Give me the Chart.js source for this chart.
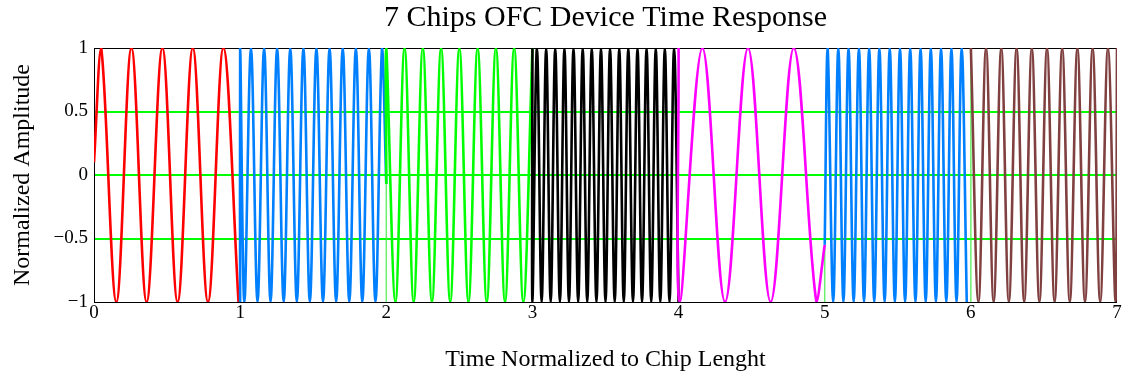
<!DOCTYPE html>
<html>
<head>
<meta charset="utf-8">
<script src="https://cdn.jsdelivr.net/npm/chart.js@4/dist/chart.umd.min.js"></script>
<style>
  body { margin: 0; background: #fff; }
  #wrap { width: 1127px; height: 377px; }
</style>
</head>
<body>
<div id="wrap"><canvas id="ofcChart" width="1127" height="377"></canvas></div>
<script>
// Peaks / troughs of each chip.
// time is in chip lengths, amplitude is normalized.
const chip1Time = [0, 0.049, 0.153, 0.256, 0.360, 0.468, 0.572, 0.676, 0.780, 0.885, 0.989];
const chip1Amp = [0.1, 1, -1, 1, -1, 1, -1, 1, -1, 1, -1];

const chip2Time = [1, 1, 1.029, 1.074, 1.119, 1.164, 1.208, 1.253, 1.298, 1.343, 1.388, 1.433,
  1.477, 1.522, 1.567, 1.612, 1.657, 1.702, 1.747, 1.792, 1.836, 1.881, 1.926, 1.971, 2.0];
const chip2Amp = [-1, 1, -1, 1, -1, 1, -1, 1, -1, 1, -1, 1,
  -1, 1, -1, 1, -1, 1, -1, 1, -1, 1, -1, 1, -0.07];

const chip3Time = [2, 2, 2.0625, 2.125, 2.1875, 2.25, 2.3125, 2.375, 2.4375, 2.5,
  2.5625, 2.625, 2.6875, 2.75, 2.8125, 2.875, 2.9375, 3];
const chip3Amp = [-0.07, 1, -1, 1, -1, 1, -1, 1, -1, 1,
  -1, 1, -1, 1, -1, 1, -1, 1];

const chip4Time = [3, 3, 3.031, 3.063, 3.094, 3.125, 3.156, 3.188, 3.219, 3.25, 3.281, 3.313,
  3.344, 3.375, 3.406, 3.438, 3.469, 3.5, 3.531, 3.563, 3.594, 3.625, 3.656, 3.688,
  3.719, 3.75, 3.781, 3.813, 3.844, 3.875, 3.906, 3.938, 3.969, 4];
const chip4Amp = [1, -1, 1, -1, 1, -1, 1, -1, 1, -1, 1, -1,
  1, -1, 1, -1, 1, -1, 1, -1, 1, -1, 1, -1,
  1, -1, 1, -1, 1, -1, 1, -1, 1, -1];

const chip5Time = [4, 4.008, 4.163, 4.318, 4.475, 4.630, 4.788, 4.943, 5];
const chip5Amp = [1, -1, 1, -1, 1, -1, 1, -1, -0.55];

const chip6Time = [5, 5.02, 5.058, 5.093, 5.128, 5.163, 5.198, 5.234, 5.269, 5.304, 5.339,
  5.374, 5.410, 5.445, 5.480, 5.515, 5.550, 5.585, 5.621, 5.656, 5.691, 5.726,
  5.761, 5.796, 5.832, 5.867, 5.902, 5.937, 5.972];
const chip6Amp = [-0.55, 1, -1, 1, -1, 1, -1, 1, -1, 1, -1,
  1, -1, 1, -1, 1, -1, 1, -1, 1, -1, 1,
  -1, 1, -1, 1, -1, 1, -1];

const chip7Time = [6, 6.052, 6.104, 6.156, 6.208, 6.260, 6.313, 6.365, 6.417, 6.469, 6.521,
  6.573, 6.625, 6.677, 6.729, 6.781, 6.833, 6.885, 6.938, 6.990, 7];
const chip7Amp = [1, -1, 1, -1, 1, -1, 1, -1, 1, -1, 1,
  -1, 1, -1, 1, -1, 1, -1, 1, -1, 1];

// thin light green joins at the chip edges (null = break)
const joinTime = [2, 2, 5, 5, 5, 6, 6, 6];
const joinAmp = [-1, 1, null, -0.55, -1, null, -1, 1];

const xTickLabels = ["0", "1", "2", "3", "4", "5", "6", "7"];
const yTickLabels = { "-1": "\u22121", "-0.5": "\u22120.5", "0": "0", "0.5": "0.5", "1": "1" };

const chipColors = ["#ff0000", "#0080ff", "#00ff00", "#000000", "#ff00ff", "#0080ff", "#804040"];

const chips = [
  [chip1Time, chip1Amp],
  [chip2Time, chip2Amp],
  [chip3Time, chip3Amp],
  [chip4Time, chip4Amp],
  [chip5Time, chip5Amp],
  [chip6Time, chip6Amp],
  [chip7Time, chip7Amp],
];

function toPoints(times, amps) {
  return times.map((t, i) => ({ x: t, y: amps[i] }));
}

const datasets = chips.map(([times, amps], i) => ({
  label: "Chip " + (i + 1),
  data: toPoints(times, amps),
  borderColor: chipColors[i],
  borderWidth: 2.6,
  pointRadius: 0,
  tension: 0.36,
  order: -i,
}));

datasets.push({
  label: "joins",
  data: toPoints(joinTime, joinAmp),
  borderColor: "rgba(60, 235, 60, 0.75)",
  borderWidth: 1.5,
  pointRadius: 0,
  tension: 0,
  spanGaps: false,
  order: 10,
});

// black box round the plot area, on the same pixels as the +1 / -1 grid positions
const framePlugin = {
  id: "frame",
  beforeDatasetsDraw(chart) {
    const { ctx, scales } = chart;
    const snap = (p) => Math.round(p - 0.5) + 0.5;
    const x0 = snap(scales.x.getPixelForValue(0));
    const x1 = snap(scales.x.getPixelForValue(7));
    const y0 = snap(scales.y.getPixelForValue(1));
    const y1 = snap(scales.y.getPixelForValue(-1));
    ctx.save();
    ctx.strokeStyle = "#000";
    ctx.lineWidth = 1;
    ctx.strokeRect(x0, y0, x1 - x0 - 1, y1 - y0);
    ctx.restore();
  },
};

Chart.defaults.font.family = '"Liberation Serif", "Times New Roman", serif';
Chart.defaults.color = "#000";

new Chart(document.getElementById("ofcChart"), {
  type: "line",
  data: { datasets },
  options: {
    responsive: false,
    devicePixelRatio: 1,
    animation: false,
    layout: { padding: { left: 0, right: 10, top: 0, bottom: 0 } },
    plugins: {
      legend: { display: false },
      tooltip: { enabled: false },
    },
    scales: {
      // top axis only carries the chart title, centred over the plot
      top: {
        type: "linear",
        position: "top",
        min: 0,
        max: 7,
        ticks: { display: false },
        grid: { display: false, drawTicks: false },
        border: { display: false },
        title: {
          display: true,
          text: "7 Chips OFC Device Time Response",
          font: { size: 30 },
          padding: { top: 0, bottom: 0 },
        },
        afterFit: (scale) => { scale.height = 48; },
      },
      x: {
        type: "linear",
        min: 0,
        max: 7,
        ticks: {
          stepSize: 1,
          padding: 0,
          font: { size: 19 },
          callback: (v) => xTickLabels[v],
        },
        grid: { display: false, drawTicks: false },
        border: { display: false },
        title: {
          display: true,
          text: "Time Normalized to Chip Lenght",
          font: { size: 24 },
          padding: { top: 0, bottom: 3 },
        },
        afterFit: (scale) => { scale.height = 75; },
      },
      y: {
        type: "linear",
        min: -1,
        max: 1,
        ticks: {
          stepSize: 0.5,
          padding: 6,
          font: { size: 19 },
          callback: (v) => yTickLabels[String(v)],
        },
        grid: {
          drawTicks: false,
          lineWidth: 2,
          color: (c) => (c.tick && Math.abs(c.tick.value) === 1 ? "rgba(0,0,0,0)" : "#00ff00"),
        },
        border: { display: false },
        title: {
          display: true,
          text: "Normalized Amplitude",
          font: { size: 24 },
          padding: { top: 8, bottom: 0 },
        },
        afterFit: (scale) => { scale.width = 94; },
      },
    },
  },
  plugins: [framePlugin],
});
</script>
</body>
</html>
